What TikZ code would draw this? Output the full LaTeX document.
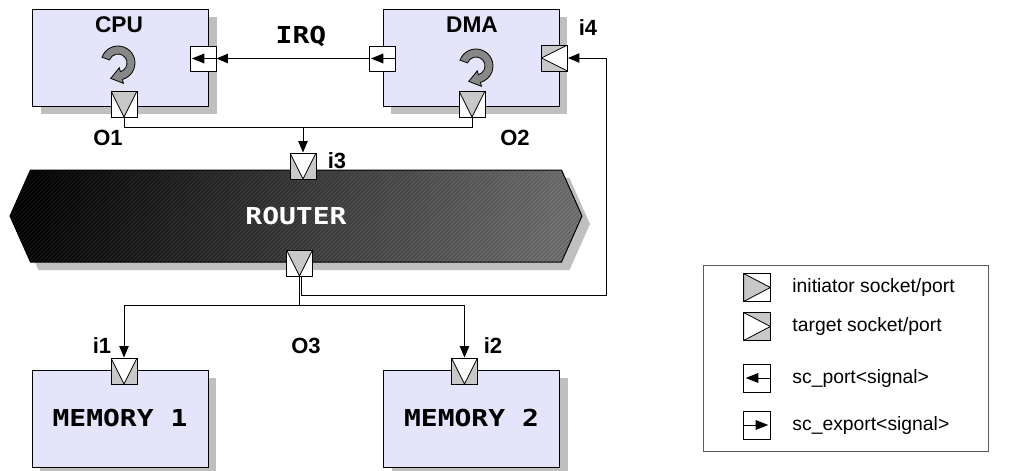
\documentclass[tikz,border=0pt]{standalone}
\usepackage{fontspec}
\setmainfont{Liberation Sans}
\newfontfamily\codefont[FakeStretch=1.2]{DejaVu Sans Mono}
\usepackage{tikz}
\usetikzlibrary{
    positioning,
    arrows.meta,
    shapes.symbols
}

\definecolor{modfill}{RGB}{228,228,250}
\definecolor{sockgray}{RGB}{200,200,200}
\definecolor{icongray}{RGB}{136,136,136}
\definecolor{legendgray}{RGB}{90,90,90}

% thread icon inside a module
\newcommand{\cycleicon}[1]{%
  \filldraw[fill=icongray, line width=0.6pt, shift={(#1)}]
    (160:17) arc[start angle=160, end angle=-75, radius=17]
    -- (-75:21) -- (-7.3,-15.4) -- (-75:5) -- (-75:9)
    arc[start angle=-75, end angle=160, radius=9] -- cycle;}

\begin{document}
\begin{tikzpicture}[
        x=0.75pt, y=0.75pt,
        modshape/.style={rectangle, minimum width=132pt, minimum height=72.75pt, inner sep=0pt},
        module/.style={modshape, draw, fill=modfill, line width=0.75pt},
        routershape/.style={signal, signal to=west and east, signal pointer angle=132,
            minimum width=429pt, minimum height=69pt, inner sep=0pt},
        router/.style={routershape, draw, line width=0.75pt, text=white},
        dropfill/.style={fill=black!25},
        title/.style={font=\fontsize{17}{20}\selectfont\bfseries},
        lbl/.style={font=\fontsize{16.5}{20}\selectfont\bfseries, inner sep=1pt},
        code/.style={font=\codefont\fontsize{17.5}{21}\selectfont\bfseries},
        keytext/.style={font=\fontsize{14.5}{17}\selectfont, inner sep=0pt},
        sockbase/.style={draw, line width=0.75pt, inner sep=0pt, minimum width=19.5pt, minimum height=19.5pt},
        isockdown/.style={sockbase, fill=white, path picture={
            \filldraw[fill=sockgray, line width=0.6pt] (path picture bounding box.north west)
            -- (path picture bounding box.north east) -- (path picture bounding box.south) -- cycle;}},
        tsockdown/.style={sockbase, fill=sockgray, path picture={
            \filldraw[fill=white, line width=0.6pt] (path picture bounding box.north west)
            -- (path picture bounding box.north east) -- (path picture bounding box.south) -- cycle;}},
        tsockleft/.style={sockbase, fill=sockgray, path picture={
            \filldraw[fill=white, line width=0.6pt] (path picture bounding box.north east)
            -- (path picture bounding box.south east) -- (path picture bounding box.west) -- cycle;}},
        isockright/.style={sockbase, fill=white, path picture={
            \filldraw[fill=sockgray, line width=0.6pt] (path picture bounding box.north west)
            -- (path picture bounding box.south west) -- (path picture bounding box.east) -- cycle;}},
        tsockright/.style={sockbase, fill=sockgray, path picture={
            \filldraw[fill=white, line width=0.6pt] (path picture bounding box.north west)
            -- (path picture bounding box.south west) -- (path picture bounding box.east) -- cycle;}},
        scport/.style={sockbase, fill=white, minimum height=18.75pt, path picture={
            \draw[black, line width=0.75pt] (path picture bounding box.center) -- (path picture bounding box.east);
            \fill[black] ([xshift=1.5pt]path picture bounding box.west) -- ([xshift=1pt, yshift=3.75pt]path picture bounding box.center)
            -- ([xshift=1pt, yshift=-3.75pt]path picture bounding box.center) -- cycle;}},
        scexport/.style={sockbase, fill=white, minimum height=18.75pt, path picture={
            \draw[black, line width=0.75pt] (path picture bounding box.west) -- (path picture bounding box.center);
            \fill[black] ([xshift=-1.5pt]path picture bounding box.east) -- ([xshift=-1pt, yshift=3.75pt]path picture bounding box.center)
            -- ([xshift=-1pt, yshift=-3.75pt]path picture bounding box.center) -- cycle;}},
        sig/.style={line width=0.75pt, -{Triangle[length=8.5pt, width=7pt]}},
        wire/.style={line width=0.75pt}
      ]

      \useasboundingbox (0,0) rectangle (1029,-471);

      % shadows
      \node[modshape, dropfill] (cpushadow) at (128.5,-65.5) {};
      \node[modshape, dropfill] (dmashadow) at (479,-65.5) {};
      \node[modshape, dropfill] (mem1shadow) at (128,-426.5) {};
      \node[modshape, dropfill] (mem2shadow) at (479.5,-426.5) {};
      \node[routershape, dropfill] (routershadow) at (304,-224) {};

      % router body: dark ramp with hatching
      \begin{scope}
        \clip (10,-216) -- (30.5,-170) -- (561.5,-170) -- (582,-216) -- (561.5,-262) -- (30.5,-262) -- cycle;
        \foreach \s in {0,...,57}{
          \pgfmathtruncatemacro\lev{max(0, min(42, 0.0734*(\s*10 + 5)))}
          \fill[white!\lev!black] (10 + \s*10, -168) rectangle ++(10.6, -97);
        }
        \foreach \k in {0,...,168}{
          \pgfmathtruncatemacro\lev{max(0, min(52, 10 + 0.0734*(\k*4 - 46)))}
          \draw[white!\lev!black, line width=0.45pt] (\k*4 - 82, -262) -- ++(92,92);
        }
      \end{scope}

      % modules
      \node[module] (cpu) at (120.5,-57.5) {};
      \node[module] (dma) at (471,-57.5) {};
      \node[router] (router) at (296,-216) {\codefont\fontsize{17.5}{21}\selectfont\bfseries ROUTER};
      \node[module, code] (mem1) at (120,-418.5) {MEMORY 1};
      \node[module, code] (mem2) at (471.5,-418.5) {MEMORY 2};

      \node[title] (cputitle) at (119,-25) {CPU};
      \node[title] (dmatitle) at (472,-25) {DMA};
      \coordinate (cpuloop) at (118,-63);
      \coordinate (dmaloop) at (476,-66);
      \cycleicon{cpuloop}
      \cycleicon{dmaloop}

      % sockets and ports
      \node[scport] (cpuirq) at (203,-58.5) {};
      \node[scport] (dmairq) at (382,-58.5) {};
      \node[isockdown] (o1) at (124,-104) {};
      \node[isockdown] (o2) at (472,-104) {};
      \node[tsockleft] (i4) at (554.5,-58) {};
      \node[tsockdown] (i3) at (303,-166) {};
      \node[isockdown] (o3) at (299.5,-263) {};
      \node[tsockdown] (i1) at (124,-371) {};
      \node[tsockdown] (i2) at (464.5,-371) {};

      % labels
      \node[code] (irqtxt) at (301,-36) {IRQ};
      \node[lbl] (o1txt) at (108,-138) {O1};
      \node[lbl] (o2txt) at (515,-138) {O2};
      \node[lbl] (i3txt) at (337,-161) {i3};
      \node[lbl] (i4txt) at (588,-28) {i4};
      \node[lbl] (i1txt) at (102,-346) {i1};
      \node[lbl] (i2txt) at (493,-346) {i2};
      \node[lbl] (o3txt) at (306,-346) {O3};

      % connections
      \coordinate (merge) at (303,-127);
      \coordinate (split) at (299.5,-305);
      \coordinate (bend) at (606,-295);
      \draw[sig] (dmairq.west) -- (cpuirq.east);
      \draw[wire] (o1.south) |- (merge);
      \draw[wire] (o2.south) |- (merge);
      \draw[sig] (merge) -- (i3.north);
      \draw[wire] (o3.south) -- (split);
      \draw[sig] (split) -| (i1.north);
      \draw[sig] (split) -| (i2.north);
      \draw[sig] ([xshift=1.5pt]o3.south) |- (bend) |- (i4.east);

      % legend
      \node[draw=legendgray, line width=0.75pt, minimum width=213.75pt, minimum height=139.5pt, inner sep=0pt] (legend) at (845.5,-358) {};
      \node[isockright, minimum width=20pt, minimum height=21pt] (keyinit) at (757,-287.5) {};
      \node[tsockright, minimum width=20pt, minimum height=21pt] (keytarg) at (757,-326.5) {};
      \node[scport, minimum width=20pt, minimum height=21pt] (keyport) at (757,-378) {};
      \node[scexport, minimum width=20pt, minimum height=21pt] (keyexp) at (757,-425) {};
      \node[keytext, right=16pt of keyinit] (keyinittxt) {initiator socket/port};
      \node[keytext, right=16pt of keytarg] (keytargtxt) {target socket/port};
      \node[keytext, right=16pt of keyport] (keyporttxt) {sc\_port<signal>};
      \node[keytext, right=16pt of keyexp] (keyexptxt) {sc\_export<signal>};
    \end{tikzpicture}
\end{document}
